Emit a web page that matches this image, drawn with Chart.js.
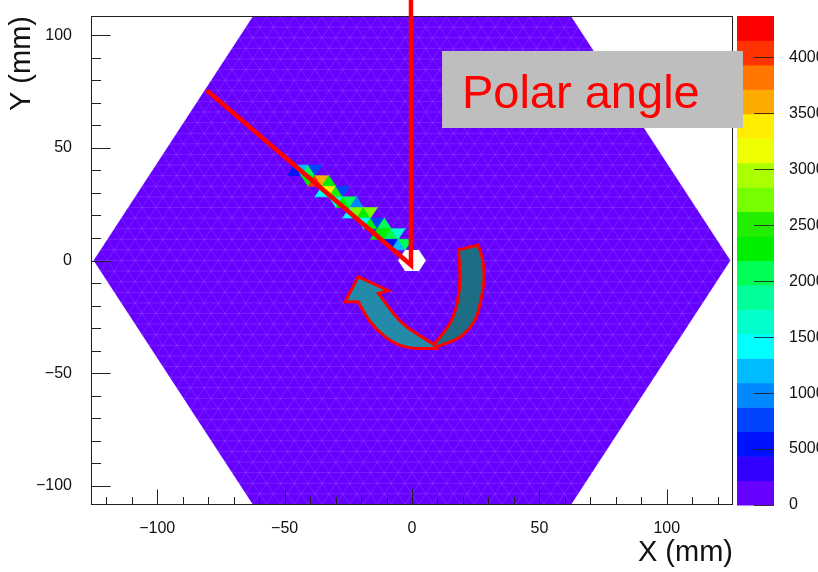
<!DOCTYPE html>
<html lang="en">
<head>
<meta charset="UTF-8" />
<title>Polar angle</title>
<script src="https://cdn.jsdelivr.net/npm/chart.js"></script>
<style>
  body { margin: 0; background: #fff; }
  #wrap { width: 818px; height: 572px; }
</style>
</head>
<body>
<div id="wrap"><canvas id="chart" width="818" height="572"></canvas></div>
<script>
  // axis ticks
  const xTicks = [-100, -50, 0, 50, 100];
  const yTicks = [-100, -50, 0, 50, 100];
  const zTicks = [0, 5000, 10000, 15000, 20000, 25000, 30000, 35000, 40000];
  const zMax = 43700;

  // hexagonal detector split into triangular cells
  const hexRadius = 125;
  const meshDiv = 23;

  // fired cells: row, index in row, content
  const cellRow = [8, 8, 8, 8, 7, 7, 7, 7, 6, 6, 6, 6, 5, 5, 5, 5, 4, 4, 4, 4, 3, 3, 3, 3, 2, 2, 2, 2, 1, 1, 1];
  const cellIdx = [-18, -17, -16, -15, -17, -16, -15, -14, -14, -13, -12, -11, -13, -12, -11, -10,
                   -10, -9, -8, -7, -9, -8, -7, -6, -6, -5, -4, -3, -5, -4, -3];
  const cellVal = [6000, 13000, 20000, 7000, 22000, 41000, 37000, 24000, 15000, 33000, 25000, 8000,
                   16000, 23000, 21000, 10000, 14000, 28000, 22000, 27000, 15000, 23000, 8000, 20000,
                   24000, 22000, 20000, 16000, 6000, 12000, 21000];

  // red track lines (mm)
  const trackX = [-80, -0.4, -0.4];
  const trackY = [75, -2, 116];

  // curved arrow outline (mm), third value marks a sharp corner
  const arrowBack = [[18.2, 4.7, 1], [26.0, 6.9, 1], [27.9, 1.1], [28.5, -8.7], [27.1, -17.5], [25.4, -25.7],
                     [21.6, -31.7], [16.9, -35.7], [9.0, -38.4, 1], [8.4, -37.5, 1], [13.6, -30.8],
                     [16.9, -23.4], [18.8, -13.1], [18.8, -1.2]];
  const arrowFront = [[-21.1, -7.2, 1], [-26.3, -18.3, 1], [-21.1, -18.3, 1], [-18.4, -24.2], [-13.9, -30.8],
                      [-7.3, -36.8], [0.5, -39.4], [9.7, -39.0, 1], [8.4, -37.1, 1], [1.2, -32.2],
                      [-4.7, -27.3], [-9.8, -19.8], [-13.2, -14.6, 1], [-9.3, -13.4, 1]];

  const palette = ['#6600ff', '#3300ff', '#0011ff', '#0044ff', '#0088ff', '#00bbff', '#00ffff', '#00ffcc',
                   '#00ff99', '#00ff55', '#00ee00', '#22ee00', '#77ff00', '#aaff00', '#eeff00', '#ffee00',
                   '#ffaa00', '#ff7700', '#ff3300', '#ff0000'];

  const FONT = "'Liberation Sans', Arial, sans-serif";
  const side = hexRadius / meshDiv;
  const rowH = side * Math.sqrt(3) / 2;

  function cellVerts(j, i) {
    const xoff = (((j % 2) + 2) % 2) * side / 2;
    const xc = xoff + (i + 1) * side / 2;
    const y0 = j * rowH, y1 = (j + 1) * rowH;
    if ((((i % 2) + 2) % 2) === 0) return [[xc - side / 2, y0], [xc + side / 2, y0], [xc, y1]];
    return [[xc - side / 2, y1], [xc + side / 2, y1], [xc, y0]];
  }

  function colorFor(v) {
    const n = palette.length;
    return palette[Math.min(n - 1, Math.floor(v / (zMax / n)))];
  }

  const fmt = v => v < 0 ? '\u2212' + (-v) : String(v);

  const hexPlugin = {
    id: 'hexmap',
    beforeDatasetsDraw(chart) {
      const { ctx, chartArea: a, scales: { x, y } } = chart;
      const P = (u, v) => [x.getPixelForValue(u), y.getPixelForValue(v)];
      const poly = pts => {
        ctx.beginPath();
        pts.forEach((p, k) => { const q = P(p[0], p[1]); k ? ctx.lineTo(q[0], q[1]) : ctx.moveTo(q[0], q[1]); });
        ctx.closePath();
      };
      const R = hexRadius, H = meshDiv * rowH;
      const hex = [[R, 0], [R / 2, H], [-R / 2, H], [-R, 0], [-R / 2, -H], [R / 2, -H]];

      ctx.save();
      poly(hex);
      ctx.fillStyle = palette[0];
      ctx.fill();
      ctx.clip();
      // faint mesh
      ctx.strokeStyle = 'rgba(255,255,255,0.12)';
      ctx.lineWidth = 1;
      ctx.beginPath();
      for (let j = -meshDiv; j <= meshDiv; j++) {
        const p = P(-R - 5, j * rowH), q = P(R + 5, j * rowH);
        ctx.moveTo(p[0], p[1]); ctx.lineTo(q[0], q[1]);
      }
      const t = meshDiv + 2;
      for (let k = -2 * meshDiv; k <= 2 * meshDiv; k++) {
        let p = P(k * side - t * side / 2, -t * rowH), q = P(k * side + t * side / 2, t * rowH);
        ctx.moveTo(p[0], p[1]); ctx.lineTo(q[0], q[1]);
        p = P(k * side + t * side / 2, -t * rowH); q = P(k * side - t * side / 2, t * rowH);
        ctx.moveTo(p[0], p[1]); ctx.lineTo(q[0], q[1]);
      }
      ctx.stroke();
      // fired cells
      ctx.lineWidth = 0.6;
      cellVal.forEach((v, k) => {
        if (v <= 0) return;
        poly(cellVerts(cellRow[k], cellIdx[k]));
        ctx.fillStyle = ctx.strokeStyle = colorFor(v);
        ctx.fill();
        ctx.stroke();
      });
      // empty centre
      poly([[side, 0], [side / 2, rowH], [-side / 2, rowH], [-side, 0], [-side / 2, -rowH], [side / 2, -rowH]]);
      ctx.fillStyle = '#ffffff';
      ctx.fill();
      ctx.restore();

      // frame and inward ticks
      ctx.save();
      ctx.strokeStyle = '#222';
      ctx.lineWidth = 1;
      const L = Math.round(a.left) + 0.5, T = Math.round(a.top) + 0.5;
      const Rr = Math.round(a.right) - 0.5, B = Math.round(a.bottom) - 0.5;
      ctx.strokeRect(L, T, Rr - L, B - T);
      ctx.beginPath();
      for (let v = -120; v <= 120; v += 10) {
        const px = Math.round(x.getPixelForValue(v)) + 0.5;
        const len = xTicks.includes(v) ? 15 : 7.5;
        ctx.moveTo(px, B); ctx.lineTo(px, B - len);
      }
      for (let v = -100; v <= 100; v += 10) {
        const py = Math.round(y.getPixelForValue(v)) + 0.5;
        const len = yTicks.includes(v) ? 19 : 9.5;
        ctx.moveTo(L, py); ctx.lineTo(L + len, py);
      }
      ctx.stroke();
      ctx.restore();
    },
    afterDatasetsDraw(chart) {
      const { ctx, scales: { x, y } } = chart;
      const P = p => ({ x: x.getPixelForValue(p[0]), y: y.getPixelForValue(p[1]), c: !!p[2] });
      const shape = (pts, fill) => {
        const q = pts.map(P);
        const n = q.length;
        ctx.beginPath();
        ctx.moveTo(q[0].x, q[0].y);
        for (let k = 1; k <= n; k++) {
          const p = q[k % n], nx = q[(k + 1) % n];
          if (p.c) { ctx.lineTo(p.x, p.y); continue; }
          const end = nx.c ? nx : { x: (p.x + nx.x) / 2, y: (p.y + nx.y) / 2 };
          ctx.quadraticCurveTo(p.x, p.y, end.x, end.y);
        }
        ctx.closePath();
        ctx.fillStyle = fill;
        ctx.fill();
        ctx.stroke();
      };
      ctx.save();
      ctx.strokeStyle = '#ff0000';
      ctx.lineWidth = 3;
      ctx.lineJoin = 'miter';
      shape(arrowBack, '#1d6e84');
      shape(arrowFront, '#238aa9');
      ctx.restore();
    },
    afterDraw(chart) {
      const { ctx, scales: { x, y, z } } = chart;
      ctx.save();
      // colour bar
      const n = palette.length, step = zMax / n;
      const bx0 = z.left + 4, bx1 = z.left + 41;
      palette.forEach((c, k) => {
        const y0 = z.getPixelForValue(k * step), y1 = z.getPixelForValue((k + 1) * step);
        ctx.fillStyle = c;
        ctx.fillRect(bx0, y1, bx1 - bx0, y0 - y1 + 0.5);
      });
      ctx.strokeStyle = 'rgba(30,30,30,0.85)';
      ctx.lineWidth = 1;
      ctx.beginPath();
      zTicks.forEach(t => {
        const py = Math.round(z.getPixelForValue(t)) + 0.5;
        ctx.moveTo(bx1 - 20, py); ctx.lineTo(bx1, py);
      });
      ctx.stroke();
      // label box
      const bl = x.getPixelForValue(11.8), br = x.getPixelForValue(129.9);
      const bt = y.getPixelForValue(93), bb = y.getPixelForValue(58.8);
      ctx.fillStyle = '#bebebe';
      ctx.fillRect(bl, bt, br - bl, bb - bt);
      ctx.fillStyle = '#ff0000';
      ctx.font = '47px ' + FONT;
      ctx.textBaseline = 'alphabetic';
      ctx.textAlign = 'left';
      ctx.fillText('Polar angle', x.getPixelForValue(19.6), y.getPixelForValue(67.7));
      ctx.restore();
    }
  };

  const tickFont = { family: FONT, size: 16 };
  const titleFont = { family: FONT, size: 29 };
  const noPad = sc => { sc.paddingTop = 0; sc.paddingBottom = 0; };

  const ctx = document.getElementById('chart').getContext('2d');
  new Chart(ctx, {
    type: 'scatter',
    data: {
      datasets: [{
        data: trackX.map((v, k) => ({ x: v, y: trackY[k] })),
        showLine: true,
        borderColor: '#ff0000',
        borderWidth: 4.5,
        pointRadius: 0,
        tension: 0,
        clip: false,
        borderJoinStyle: 'miter',
        borderCapStyle: 'round'
      }]
    },
    options: {
      responsive: false,
      animation: false,
      devicePixelRatio: 1,
      events: [],
      layout: { padding: { top: 16, left: 0, right: 0, bottom: 0 } },
      plugins: { legend: { display: false }, tooltip: { enabled: false } },
      scales: {
        x: {
          type: 'linear', position: 'bottom', min: -126, max: 126,
          grid: { display: false }, border: { display: false },
          afterBuildTicks: sc => { sc.ticks = xTicks.map(v => ({ value: v })); },
          afterFit: sc => { sc.height = 67; sc.paddingLeft = 0; sc.paddingRight = 0; },
          ticks: { font: tickFont, color: '#111', padding: 6, maxRotation: 0, callback: fmt },
          title: { display: true, text: 'X (mm)', align: 'end', font: titleFont, color: '#111', padding: { top: 0, bottom: 2 } }
        },
        y: {
          type: 'linear', position: 'left', min: -108.5, max: 108.5,
          grid: { display: false }, border: { display: false },
          afterBuildTicks: sc => { sc.ticks = yTicks.map(v => ({ value: v })); },
          afterFit: sc => { sc.width = 91; noPad(sc); },
          ticks: { font: tickFont, color: '#111', padding: 11, callback: fmt },
          title: { display: true, text: 'Y (mm)', align: 'end', font: titleFont, color: '#111', padding: { top: 5, bottom: 0 } }
        },
        z: {
          type: 'linear', axis: 'y', position: 'right', min: 0, max: zMax,
          grid: { display: false }, border: { display: false },
          afterBuildTicks: sc => { sc.ticks = zTicks.map(v => ({ value: v })); },
          afterFit: sc => { sc.width = 85; noPad(sc); },
          ticks: { font: tickFont, color: '#111', padding: 48, callback: v => String(v) }
        }
      }
    },
    plugins: [hexPlugin]
  });
</script>
</body>
</html>
